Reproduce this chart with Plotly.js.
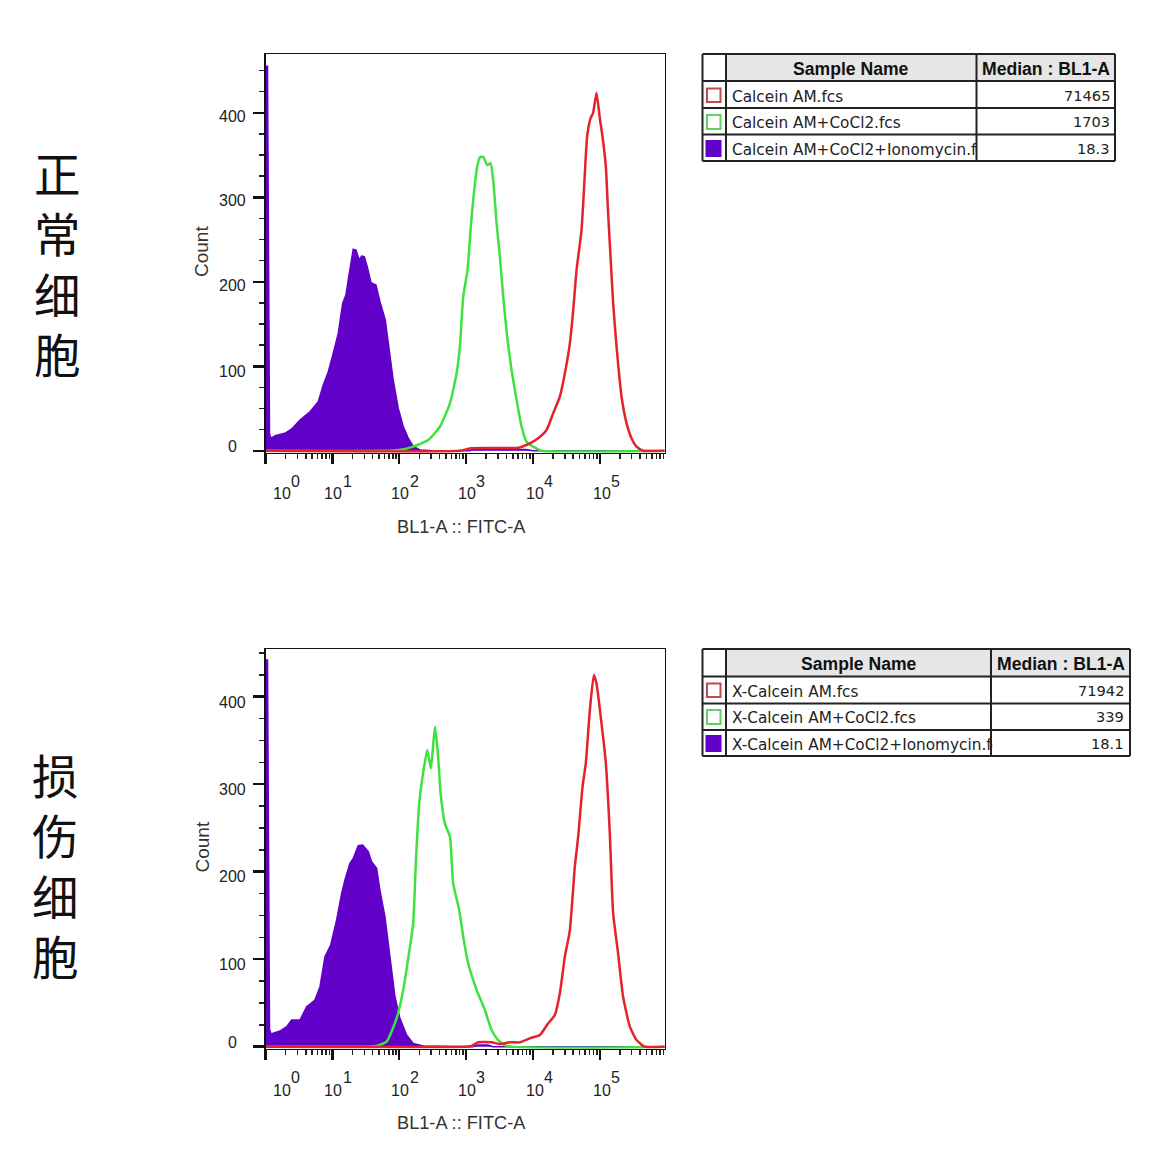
<!DOCTYPE html>
<html><head><meta charset="utf-8">
<script src="https://cdn.plot.ly/plotly-3.0.1.min.js"></script>
<style>html,body{margin:0;padding:0;background:#fff}#g{width:1162px;height:1161px}</style></head>
<body><div id="g"></div>
<script>
// ---- data: x is log10(BL1-A), y is Count ----
const purple1X=[0,0.03,0.06,0.082,0.142,0.291,0.392,0.516,0.665,0.789,0.864,0.939,1.013,1.088,1.154,1.203,1.253,1.312,1.353,1.402,1.438,1.477,1.522,1.577,1.652,1.712,1.791,1.836,1.91,1.985,2.06,2.135,2.209,2.31,2.46,3.0,3.05,3.1,3.9,4.0,5.97];
const purple1Y=[455,455,20,14.8,17.9,20.7,25.8,36.4,46.2,58.1,77.8,93.6,115.3,138.9,174.4,184.6,210,238.5,237.6,225.8,230.5,229.7,217.8,199,196.2,176.5,154.8,125.2,83.8,50.4,28.7,15,5.1,1,0.3,0,0,1.5,1.5,0,0];
const green1X=[0,1.8,2.0,2.209,2.434,2.608,2.758,2.858,2.907,2.957,3.022,3.067,3.106,3.166,3.206,3.256,3.315,3.366,3.405,3.456,3.505,3.555,3.614,3.68,3.755,3.83,3.904,4.029,4.129,5.97];
const green1Y=[0,0,1,4.9,12.8,28.5,56.2,91.7,123.2,182.4,214,261.3,296.8,336.2,347.3,348,338.2,340.2,320.5,269.2,229.7,182.4,135,95.6,60,28.5,10.8,3.7,0.1,0];
const red1X=[0,2.9,3.08,3.78,3.954,4.078,4.203,4.302,4.402,4.477,4.552,4.602,4.652,4.726,4.765,4.81,4.861,4.9,4.95,5.0,5.04,5.09,5.124,5.16,5.199,5.25,5.325,5.4,5.474,5.549,5.647,5.97];
const red1Y=[0,0,3,3.7,8.9,14.8,24.6,44.4,64,91.7,127.2,166.6,214,261.3,312.5,371.7,393.5,400,423.8,393.5,371.7,336.2,281,229.7,174.6,123.2,64,32.5,14.8,4.9,0.1,0];

const purple2X=[0,0.03,0.06,0.082,0.217,0.317,0.391,0.516,0.616,0.74,0.815,0.889,0.975,1.064,1.139,1.188,1.263,1.313,1.387,1.453,1.537,1.587,1.662,1.711,1.786,1.861,1.936,2.01,2.11,2.209,2.359,3.1,3.17,3.33,3.4,5.97];
const purple2Y=[442,442,20,14.5,17.9,22.9,30.5,30.5,45.7,53.3,68.6,102.9,116.2,144.8,175.2,190.5,209.5,215.2,229.7,230.5,222.9,211.4,203.8,179,148.6,102.9,57.1,32.4,13.3,3.8,0.8,0,2,2,0,0];
const green2X=[0,1.55,1.662,1.811,1.961,2.06,2.16,2.209,2.25,2.299,2.349,2.419,2.474,2.534,2.574,2.619,2.683,2.758,2.807,2.897,2.957,3.032,3.157,3.281,3.381,3.479,3.605,5.97];
const green2Y=[0,0,0.8,5.7,32.4,64.8,114,141,213,278,308.6,339,318,365.7,339,289.5,255,240,186.7,156,125.7,95,64.8,41.9,19,7.6,0.8,0];
const red2X=[0,2.982,3.082,3.181,3.381,3.505,3.655,3.804,3.979,4.103,4.228,4.327,4.402,4.477,4.552,4.626,4.676,4.741,4.79,4.851,4.91,4.95,5.025,5.09,5.149,5.199,5.273,5.348,5.449,5.549,5.673,5.97];
const red2Y=[0,0,0.8,5,5,3,5,5,10.3,13.3,26.7,36.2,61,102.9,133,205.7,240,297,323.8,384.8,424.8,415,369.5,323.8,243.8,152.4,106.7,57,22.9,7.6,0,0];

const xMajor=[1,10,100,1000,10000,100000];
const xExponents=['0','1','2','3','4','5'];
const xMantissa='10';
const yMajor=[0,100,200,300,400];
const xTitle='BL1-A :: FITC-A';
const yTitle='Count';
const leftLabel1=['正','常','细','胞'];
const leftLabel2=['损','伤','细','胞'];
const tableHeader=['Sample Name','Median : BL1-A'];
const samples1=['Calcein AM.fcs','Calcein AM+CoCl2.fcs','Calcein AM+CoCl2+Ionomycin.fcs'];
const medians1=['71465','1703','18.3'];
const samples2=['X-Calcein AM.fcs','X-Calcein AM+CoCl2.fcs','X-Calcein AM+CoCl2+Ionomycin.fcs'];
const medians2=['71942','339','18.1'];

// ---- style / layout ----
const W=1162,H=1161;
const RED='#e3222a',GREEN='#3de23d',PURPLE='#6100c9',INK='#222';
const fx=p=>p/W, fy=p=>1-p/H;
const pow=a=>a.map(v=>Math.pow(10,v));
const minorX=[];
for(let d=1;d<=100000;d*=10)for(let k=2;k<=9;k++)minorX.push(k*d);

function traces(ax,ay,pX,pY,gX,gY,rX,rY){
  const base={type:'scatter',mode:'lines',xaxis:ax,yaxis:ay,hoverinfo:'skip',showlegend:false};
  return [
    Object.assign({},base,{x:pow(pX),y:pY,fill:'tozeroy',fillcolor:PURPLE,line:{color:PURPLE,width:1.5}}),
    Object.assign({},base,{x:pow(gX),y:gY,line:{color:GREEN,width:2.5,shape:'spline',smoothing:0.5}}),
    Object.assign({},base,{x:pow(rX),y:rY,line:{color:RED,width:2.5,shape:'spline',smoothing:0.5}})
  ];
}
const data=[...traces('x','y',purple1X,purple1Y,green1X,green1Y,red1X,red1Y),
            ...traces('x2','y2',purple2X,purple2Y,green2X,green2Y,red2X,red2Y)];

function xAxis(anchor){return{type:'log',range:[0,5.97],domain:[fx(265.5),fx(664.7)],anchor:anchor,
  showgrid:false,zeroline:false,showline:true,mirror:true,linecolor:'#111',linewidth:1.5,
  tickmode:'array',tickvals:xMajor,ticktext:xMajor.map(()=>''),ticks:'outside',ticklen:10,tickwidth:2.5,tickcolor:'#111',
  minor:{tickmode:'array',tickvals:minorX,ticks:'outside',ticklen:5,tickwidth:1.5,tickcolor:'#222',showgrid:false}};}
function yAxis(anchor,range,dom){return{range:range,domain:dom,anchor:anchor,
  showgrid:false,zeroline:false,showline:true,mirror:true,linecolor:'#111',linewidth:1.5,
  tickmode:'array',tickvals:yMajor,ticktext:yMajor.map(()=>''),ticks:'outside',ticklen:11,tickwidth:2.5,tickcolor:'#111',
  minor:{dtick:25,ticks:'outside',ticklen:5,tickwidth:1.5,tickcolor:'#222',showgrid:false}};}

const ann=[],shapes=[];
function text(t,x,y,o){ann.push(Object.assign({text:t,x:fx(x),y:fy(y),xref:'paper',yref:'paper',showarrow:false,
  xanchor:'center',yanchor:'middle',borderpad:0,font:{family:'"Liberation Sans",Arial,sans-serif',size:16,color:'#222'}},o||{}));}
function line(x0,y0,x1,y1,w,c){shapes.push({type:'line',xref:'paper',yref:'paper',x0:fx(x0),x1:fx(x1),y0:fy(y0),y1:fy(y1),line:{color:c||INK,width:w||2}});}
function rect(x0,y0,x1,y1,fill,lc){shapes.push({type:'rect',xref:'paper',yref:'paper',x0:fx(x0),x1:fx(x1),y0:fy(y0),y1:fy(y1),fillcolor:fill,line:{color:lc,width:2},layer:'above'});}

// axis text, offset per plot
const labelX=[282,333,400,467,535,602],supX=[295,347,414,480,548,615];
function plotText(dy,ys,ycount){
  xExponents.forEach((e,i)=>{text(xMantissa,labelX[i],494+dy);text(e,supX[i],481.5+dy);});
  yMajor.forEach((v,i)=>text(String(v),232.5,ys[i]));
  text(xTitle,461.5,527+dy,{font:{family:'"Liberation Sans",Arial,sans-serif',size:18.2,color:'#333'}});
  text(yTitle,201.5,ycount,{textangle:-90,font:{family:'"Liberation Sans",Arial,sans-serif',size:19,color:'#333'}});
}
plotText(0,[446,371,285,201,117],251.5);
plotText(596,[1042,964,876,789,702],847);

// left vertical labels: one text per panel, stacked one character per line
const cjk={family:'"Noto Sans CJK SC",sans-serif',size:46.5,color:'#111'};
text(leftLabel1.join('<br>'),57,262,{font:cjk});
text(leftLabel2.join('<br>'),55,864,{font:cjk});

// tables
function table(x0,c1,c2,x1,y0,r,samples,medians,textX,valX,rowY){
  rect(c1,y0,c2,r[0],'#e6e6e6','rgba(0,0,0,0)');rect(c2,y0,x1,r[0],'#e6e6e6','rgba(0,0,0,0)');
  [y0,...r,y0+107].forEach(y=>line(x0,y,x1,y));
  [x0,c1,c2,x1].forEach(x=>line(x,y0,x,y0+107));
  const hf={family:'"Liberation Sans",Arial,sans-serif',size:17.6,color:'#111'};
  text('<b>'+tableHeader[0]+'</b>',(c1+c2)/2,y0+14.5,{font:hf});
  text('<b>'+tableHeader[1]+'</b>',(c2+x1)/2,y0+14.5,{font:hf});
  const bf={family:'"DejaVu Sans",sans-serif',size:15.3,color:'#222'};
  const vf={family:'"DejaVu Sans",sans-serif',size:14.6,color:'#222'};
  samples.forEach((s,i)=>{
    text(s,textX,rowY[i]+0.7,{xanchor:'left',align:'left',width:c2-textX,font:bf});
    text(medians[i],valX,rowY[i]-0.6,{xanchor:'right',align:'right',font:vf});
  });
  rect(707,y0+34.5,720.5,y0+48,'#fff','#c04a4a');
  rect(707,y0+61,720.5,y0+75,'#fff','#60d060');
  rect(706.5,y0+87,720.5,y0+102,PURPLE,PURPLE);
}
table(702.5,726,976.5,1115,54,[81,108,134.5],samples1,medians1,731.5,1110.5,[96,122.5,149]);
table(702.5,726,991,1130,649,[676.5,703.5,730],samples2,medians2,730.5,1125,[691,717.5,744]);

const layout={width:W,height:H,margin:{l:0,r:0,t:0,b:0},paper_bgcolor:'#fff',plot_bgcolor:'#fff',showlegend:false,
  xaxis:xAxis('y'),yaxis:yAxis('x',[-2.25,469.6],[fy(452.7),fy(54)]),
  xaxis2:xAxis('y2'),yaxis2:yAxis('x2',[-2.3,454.5],[fy(1048.7),fy(649)]),
  annotations:ann,shapes:shapes};
Plotly.newPlot('g',data,layout,{staticPlot:true,displayModeBar:false});
</script></body></html>
